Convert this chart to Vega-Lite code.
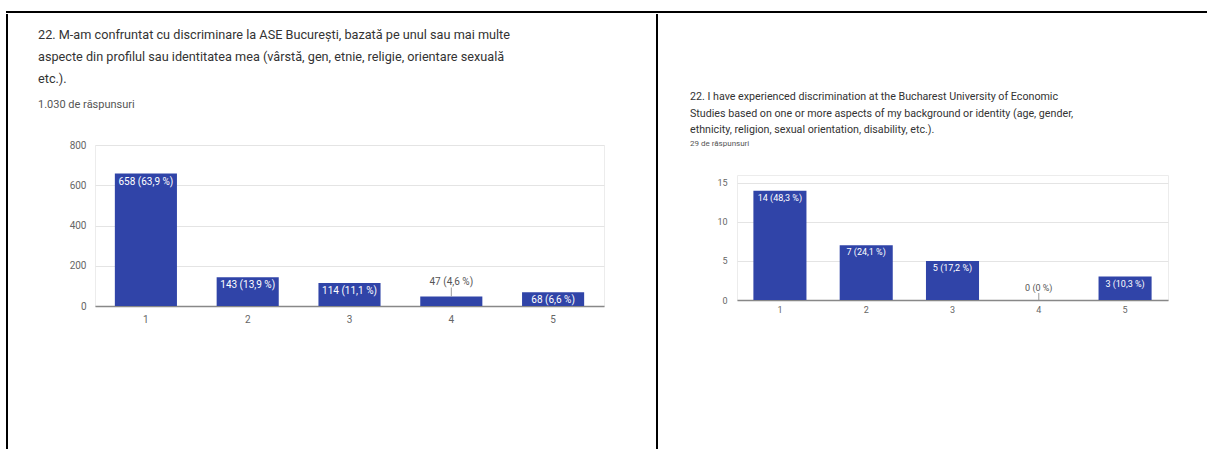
{
  "$schema": "https://vega.github.io/schema/vega-lite/v6.json",
  "background": "white",
  "padding": {"left": 6, "top": 11, "right": 0, "bottom": 0},
  "config": {
    "view": {"stroke": null},
    "font": "Roboto",
    "axis": {"labelFont": "Roboto", "labelColor": "#666666", "titleFont": "Roboto"},
    "title": {"font": "Roboto", "subtitleFont": "Roboto"}
  },
  "spacing": 0,
  "vconcat": [
    {
      "width": 1200, "height": 0.001,
      "data": {"values": []},
      "mark": "point", "encoding": {},
      "view": {"stroke": "black", "strokeWidth": 2}
    },
    {
      "spacing": 51,
      "hconcat": [
        {
          "spacing": 28,
          "hconcat": [
            {
              "width": 0.001, "height": 437,
              "data": {"values": []},
              "mark": "point", "encoding": {},
              "view": {"stroke": "black", "strokeWidth": 2}
            },
            {
              "spacing": 0,
              "vconcat": [
                {"width": 1, "height": 13, "data": {"values": []}, "mark": "point", "encoding": {}},
                {
                  "width": 509, "height": 161,
                  "view": {"stroke": "#ececec"},
                  "title": {
                    "text": [
                      "22. M-am confruntat cu discriminare la ASE București, bazată pe unul sau mai multe",
                      "aspecte din profilul sau identitatea mea (vârstă, gen, etnie, religie, orientare sexuală",
                      "etc.)."
                    ],
                    "subtitle": "1.030 de răspunsuri",
                    "anchor": "start", "frame": "group", "dx": -57,
                    "fontSize": 12.7, "fontWeight": "normal", "lineHeight": 22, "color": "#333333",
                    "subtitleFontSize": 11, "subtitleColor": "#555555", "subtitlePadding": 13,
                    "offset": 30
                  },
                  "data": {"values": [
                    {"opt": "1", "n": 658, "pct": "63,9"},
                    {"opt": "2", "n": 143, "pct": "13,9"},
                    {"opt": "3", "n": 114, "pct": "11,1"},
                    {"opt": "4", "n": 47, "pct": "4,6"},
                    {"opt": "5", "n": 68, "pct": "6,6"}
                  ]},
                  "transform": [{"calculate": "datum.n + ' (' + datum.pct + ' %)'", "as": "label"}],
                  "encoding": {
                    "x": {
                      "field": "opt", "type": "ordinal",
                      "scale": {"paddingInner": 0.39, "paddingOuter": 0.195},
                      "axis": {"title": null, "labelAngle": 0, "ticks": false, "domainColor": "#888888", "domainWidth": 1.5, "labelPadding": 8, "labelFontSize": 10}
                    }
                  },
                  "layer": [
                    {
                      "mark": {"type": "bar", "color": "#3044a8"},
                      "encoding": {
                        "y": {
                          "field": "n", "type": "quantitative",
                          "scale": {"domain": [0, 800]},
                          "axis": {
                            "title": null, "domain": false, "ticks": false, "labelPadding": 9, "labelFontSize": 10,
                            "values": [0, 100, 200, 300, 400, 500, 600, 700, 800],
                            "labelExpr": "datum.value % 200 === 0 ? datum.label : ''",
                            "gridColor": {"condition": {"test": "datum.value % 200 === 0", "value": "#e4e4e4"}, "value": "#f4f4f4"}
                          }
                        }
                      }
                    },
                    {
                      "transform": [{"filter": "datum.n >= 60"}],
                      "mark": {"type": "text", "baseline": "top", "dy": 3, "color": "white", "fontSize": 10},
                      "encoding": {"y": {"field": "n", "type": "quantitative"}, "text": {"field": "label"}}
                    },
                    {
                      "transform": [{"filter": "datum.n < 60"}],
                      "mark": {"type": "text", "baseline": "bottom", "dy": -10, "color": "#555555", "fontSize": 10},
                      "encoding": {"y": {"field": "n", "type": "quantitative"}, "text": {"field": "label"}}
                    },
                    {
                      "transform": [{"filter": "datum.n < 60"}],
                      "mark": {"type": "rule", "y2Offset": -9, "color": "#999999"},
                      "encoding": {"y": {"field": "n", "type": "quantitative"}, "y2": {"field": "n"}}
                    }
                  ]
                }
              ]
            }
          ]
        },
        {
          "spacing": 30,
          "hconcat": [
            {
              "width": 0.001, "height": 437,
              "data": {"values": []},
              "mark": "point", "encoding": {},
              "view": {"stroke": "black", "strokeWidth": 2}
            },
            {
              "spacing": 0,
              "vconcat": [
                {"width": 1, "height": 75, "data": {"values": []}, "mark": "point", "encoding": {}},
                {
                  "width": 431, "height": 125,
                  "view": {"stroke": "#ececec"},
                  "title": {
                    "text": [
                      "22. I have experienced discrimination at the Bucharest University of Economic",
                      "Studies based on one or more aspects of my background or identity (age, gender,",
                      "ethnicity, religion, sexual orientation, disability, etc.)."
                    ],
                    "subtitle": "29 de răspunsuri",
                    "anchor": "start", "frame": "group", "dx": -47,
                    "fontSize": 10.7, "fontWeight": "normal", "lineHeight": 16.5, "color": "#333333",
                    "subtitleFontSize": 8, "subtitleColor": "#555555", "subtitlePadding": 4,
                    "offset": 26
                  },
                  "data": {"values": [
                    {"opt": "1", "n": 14, "pct": "48,3"},
                    {"opt": "2", "n": 7, "pct": "24,1"},
                    {"opt": "3", "n": 5, "pct": "17,2"},
                    {"opt": "4", "n": 0, "pct": "0"},
                    {"opt": "5", "n": 3, "pct": "10,3"}
                  ]},
                  "transform": [{"calculate": "datum.n + ' (' + datum.pct + ' %)'", "as": "label"}],
                  "encoding": {
                    "x": {
                      "field": "opt", "type": "ordinal",
                      "scale": {"paddingInner": 0.385, "paddingOuter": 0.19},
                      "axis": {"title": null, "labelAngle": 0, "ticks": false, "domainColor": "#888888", "domainWidth": 1.5, "labelPadding": 5, "labelFontSize": 9}
                    }
                  },
                  "layer": [
                    {
                      "mark": {"type": "bar", "color": "#3044a8"},
                      "encoding": {
                        "y": {
                          "field": "n", "type": "quantitative",
                          "scale": {"domain": [0, 15]},
                          "axis": {
                            "title": null, "domain": false, "ticks": false, "labelPadding": 10, "labelFontSize": 9,
                            "values": [0, 2.5, 5, 7.5, 10, 12.5, 15],
                            "labelExpr": "datum.value % 5 === 0 ? datum.label : ''",
                            "gridColor": {"condition": {"test": "datum.value % 5 === 0", "value": "#e4e4e4"}, "value": "#f4f4f4"}
                          }
                        }
                      }
                    },
                    {
                      "transform": [{"filter": "datum.n >= 1"}],
                      "mark": {"type": "text", "baseline": "top", "dy": 3, "color": "white", "fontSize": 9},
                      "encoding": {"y": {"field": "n", "type": "quantitative"}, "text": {"field": "label"}}
                    },
                    {
                      "transform": [{"filter": "datum.n < 1"}],
                      "mark": {"type": "text", "baseline": "bottom", "dy": -7, "color": "#555555", "fontSize": 9},
                      "encoding": {"y": {"field": "n", "type": "quantitative"}, "text": {"field": "label"}}
                    },
                    {
                      "transform": [{"filter": "datum.n < 1"}],
                      "mark": {"type": "rule", "y2Offset": -7, "color": "#999999"},
                      "encoding": {"y": {"field": "n", "type": "quantitative"}, "y2": {"field": "n"}}
                    }
                  ]
                }
              ]
            }
          ]
        }
      ]
    }
  ]
}
